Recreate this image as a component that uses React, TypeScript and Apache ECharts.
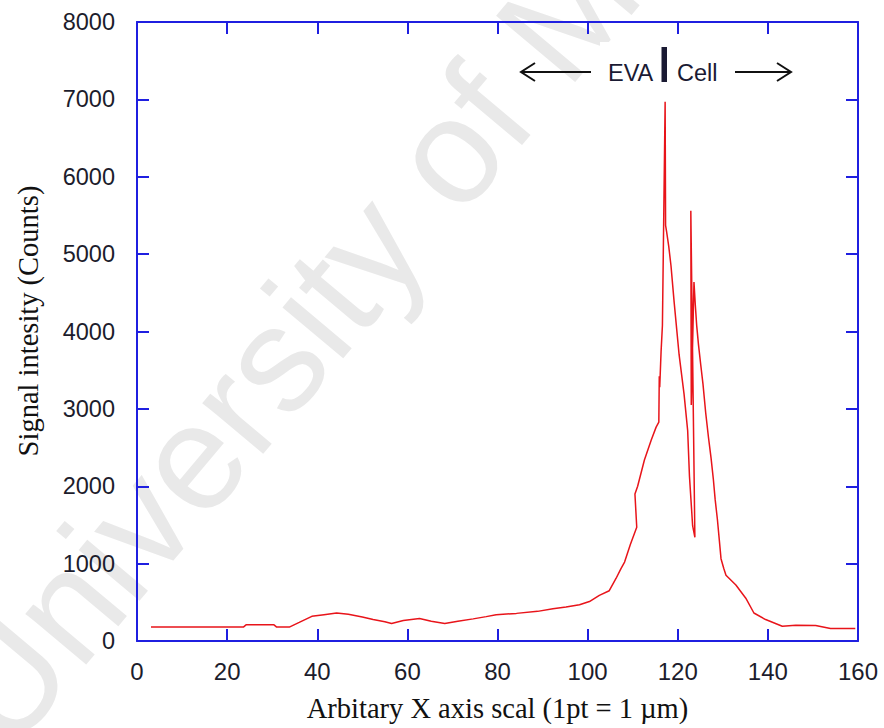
import React, { useEffect, useRef } from "react";
import * as echarts from "echarts";

// Position along the profile (1 pt = 1 µm)
const positions = [
  3.1, 23.6, 24.2, 30.4, 31.0, 33.8, 36.0, 38.8, 41.5, 44.3, 46.9, 50.0, 52.4, 55.0, 56.5, 59.1,
  62.7, 65.3, 68.3, 71.2, 74.6, 77.5, 79.7, 84.2, 88.9, 92.3, 95.2, 98.2, 100.4, 102.6, 104.8,
  106.3, 107.4, 108.2, 109.5, 110.9, 110.5, 111.1, 112.6, 114.1, 115.2, 115.8, 115.9, 116.0,
  116.3, 116.6, 117.2, 117.3, 117.5, 118.0, 118.5, 119.2, 120.3, 121.4, 122.2, 122.6, 123.3,
  123.8, 122.9, 123.0, 123.6, 123.9, 124.2, 124.6, 125.1, 125.6, 126.2, 126.8, 127.4, 127.9,
  128.3, 128.8, 129.2, 129.6, 130.2, 130.7, 132.9, 135.1, 136.9, 139.5, 143.2, 146.2, 150.6,
  153.9, 159.4,
];

// Signal intensity (counts)
const counts = [
  180, 180, 209, 209, 180, 180, 240, 319, 340, 362, 345, 310, 277, 250, 226, 264,
  290, 255, 226, 255, 286, 315, 340, 357, 383, 417, 438, 468, 510, 590, 650,
  808, 936, 1020, 1250, 1470, 1900, 2000, 2340, 2594, 2764, 2828, 3420, 3280,
  3740, 4080, 6970, 5370, 5300, 5100, 4850, 4380, 3700, 3190, 2720, 2130, 1490,
  1340, 5560, 3050, 4640, 4340, 4080, 3830, 3570, 3320, 2950, 2640, 2360, 2090,
  1830, 1570, 1320, 1064, 940, 850, 723, 553, 362, 277, 191, 204, 200,
  162, 162,
];

const xTitle = "Arbitary X axis scal (1pt = 1 µm)";
const yTitle = "Signal intesity (Counts)";
const watermark = "University of Malaya";

const BLUE = "#1f1fe0";
const LABEL = "#1c1c2c";
const SANS = "'Liberation Sans', Arial, sans-serif";
const SERIF = "'Liberation Serif', 'Times New Roman', serif";

export default function App() {
  const ref = useRef<HTMLDivElement>(null);

  useEffect(() => {
    document.body.style.margin = "0";
    const chart = echarts.init(ref.current!, null, { renderer: "svg" });
    const data = positions.map((x, i) => [x, counts[i]]);

    const axisLine = { onZero: false, lineStyle: { color: BLUE, width: 2 } };
    const axisTick = { inside: true, length: 12, lineStyle: { color: BLUE, width: 2 } };
    const labelStyle = { color: LABEL, fontSize: 24, fontFamily: SANS };

    chart.setOption({
      animation: false,
      backgroundColor: "#ffffff",
      grid: { left: 137, right: 26, top: 22, bottom: 81 },
      xAxis: [
        {
          type: "value",
          position: "bottom",
          min: 0,
          max: 160,
          interval: 20,
          axisLine,
          axisTick,
          axisLabel: { ...labelStyle, margin: 18, formatter: (v: number) => String(v) },
          splitLine: { show: false },
          name: xTitle,
          nameLocation: "middle",
          nameGap: 53,
          nameTextStyle: { fontFamily: SERIF, fontSize: 28.5, color: "#111111" },
        },
        {
          type: "value",
          position: "top",
          min: 0,
          max: 160,
          interval: 20,
          axisLine,
          axisTick,
          axisLabel: { show: false },
          splitLine: { show: false },
        },
      ],
      yAxis: [
        {
          type: "value",
          position: "left",
          min: 0,
          max: 8000,
          interval: 1000,
          axisLine,
          axisTick,
          axisLabel: {
            ...labelStyle,
            fontSize: 23.5,
            margin: 22,
            formatter: (v: number) => String(v),
          },
          splitLine: { show: false },
        },
        {
          type: "value",
          position: "right",
          min: 0,
          max: 8000,
          interval: 1000,
          axisLine,
          axisTick,
          axisLabel: { show: false },
          splitLine: { show: false },
        },
      ],
      series: [
        {
          type: "line",
          xAxisIndex: 0,
          yAxisIndex: 0,
          data,
          symbol: "none",
          z: 5,
          lineStyle: { color: "#e8141a", width: 1.5 },
        },
      ],
      graphic: [
        {
          type: "text",
          x: -30,
          y: 722,
          rotation: (50 * Math.PI) / 180,
          z: -10,
          silent: true,
          style: {
            text: watermark,
            fontSize: 150,
            fontFamily: SANS,
            fill: "#e9e9e9",
            align: "left",
            verticalAlign: "middle",
            textAlign: "left",
            textVerticalAlign: "middle",
          },
        },
        {
          type: "rect",
          z: -5,
          silent: true,
          shape: { x: 600, y: 42, width: 230, height: 64 },
          style: { fill: "#ffffff" },
        },
        {
          type: "text",
          x: 28,
          y: 321,
          rotation: Math.PI / 2,
          z: 10,
          style: {
            text: yTitle,
            fontSize: 28.5,
            fontFamily: SERIF,
            fill: "#111111",
            align: "center",
            verticalAlign: "middle",
            textAlign: "center",
            textVerticalAlign: "middle",
          },
        },
        // left arrow
        {
          type: "line",
          z: 10,
          shape: { x1: 521, y1: 72, x2: 591, y2: 72 },
          style: { stroke: "#111111", lineWidth: 2 },
        },
        {
          type: "polyline",
          z: 10,
          shape: { points: [[535, 63], [521, 72], [535, 81]] },
          style: { stroke: "#111111", lineWidth: 2, fill: "none" },
        },
        // right arrow
        {
          type: "line",
          z: 10,
          shape: { x1: 735, y1: 72, x2: 791, y2: 72 },
          style: { stroke: "#111111", lineWidth: 2 },
        },
        {
          type: "polyline",
          z: 10,
          shape: { points: [[777, 63], [791, 72], [777, 81]] },
          style: { stroke: "#111111", lineWidth: 2, fill: "none" },
        },
        {
          type: "text",
          x: 608,
          y: 73,
          z: 10,
          style: {
            text: "EVA",
            fontSize: 23.5,
            fontFamily: SANS,
            fill: "#1a1a33",
            align: "left",
            verticalAlign: "middle",
            textAlign: "left",
            textVerticalAlign: "middle",
          },
        },
        {
          type: "rect",
          z: 10,
          shape: { x: 661.5, y: 47, width: 5.5, height: 35 },
          style: { fill: "#1a1a33" },
        },
        {
          type: "text",
          x: 677,
          y: 73,
          z: 10,
          style: {
            text: "Cell",
            fontSize: 23.5,
            fontFamily: SANS,
            fill: "#1a1a33",
            align: "left",
            verticalAlign: "middle",
            textAlign: "left",
            textVerticalAlign: "middle",
          },
        },
      ],
    });

    return () => chart.dispose();
  }, []);

  return <div ref={ref} style={{ width: 884, height: 728 }} />;
}
